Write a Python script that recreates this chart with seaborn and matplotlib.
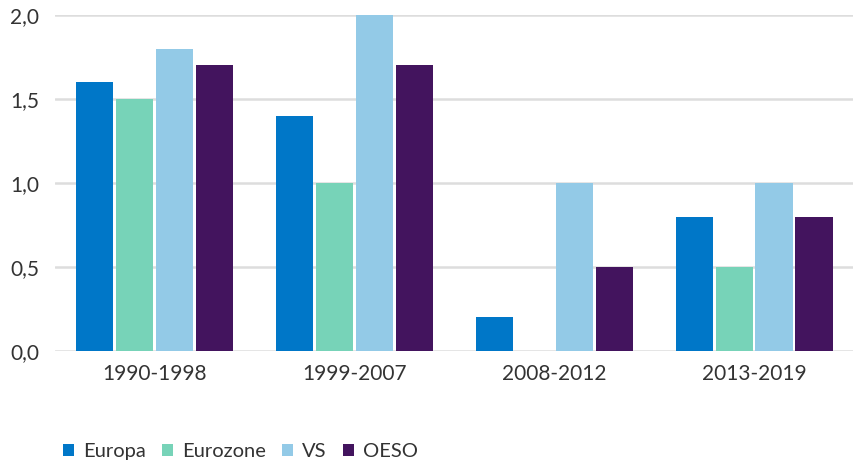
import matplotlib
matplotlib.use("Agg")
import matplotlib.pyplot as plt
import pandas as pd
import seaborn as sns
from matplotlib.ticker import FuncFormatter

# Gegevens
periods = ["1990-1998", "1999-2007", "2008-2012", "2013-2019"]
regions = ["Europa", "Eurozone", "VS", "OESO"]
europa = [1.6, 1.4, 0.2, 0.8]
eurozone = [1.5, 1.0, 0.0, 0.5]
vs = [1.8, 2.0, 1.0, 1.0]
oeso = [1.7, 1.7, 0.5, 0.8]
colors = ["#0077C8", "#77D3B8", "#93CAE7", "#43145E"]

df = pd.DataFrame({
    "period": periods * 4,
    "region": [r for r in regions for _ in periods],
    "value": europa + eurozone + vs + oeso,
})

sns.set_theme(style="white")
plt.rcParams["font.family"] = ["Lato", "DejaVu Sans"]

fig = plt.figure(figsize=(8.54, 4.61), dpi=100)
ax = fig.add_axes([0.064, 0.2386, 0.936, 0.7288])

sns.barplot(
    data=df, x="period", y="value", hue="region",
    order=periods, hue_order=regions, palette=colors,
    width=0.8, gap=0.07, saturation=1, linewidth=0, ax=ax, zorder=3,
)

ax.set_ylim(0, 2.0)
ax.set_xlim(-0.5, 3.5)
ax.set_yticks([0, 0.5, 1.0, 1.5, 2.0])
ax.yaxis.set_major_formatter(FuncFormatter(lambda v, _: f"{v:.1f}".replace(".", ",")))
ax.grid(axis="y", color="#DDDDDD", linewidth=1.8, zorder=0)
ax.set_axisbelow(True)
for side in ["top", "right", "left", "bottom"]:
    ax.spines[side].set_visible(False)
ax.tick_params(axis="both", length=0, labelsize=15, colors="#333333")
ax.tick_params(axis="y", pad=11)
ax.tick_params(axis="x", pad=9)
ax.set_xlabel("")
ax.set_ylabel("")

ax.legend(
    loc="center left", bbox_to_anchor=(0.01, -0.3), ncol=4, frameon=False,
    handlelength=0.55, handleheight=0.55, handletextpad=0.45, columnspacing=0.8,
    fontsize=14.5, labelcolor="#333333", borderaxespad=0, borderpad=0,
)

fig.savefig("out.png", dpi=100)
